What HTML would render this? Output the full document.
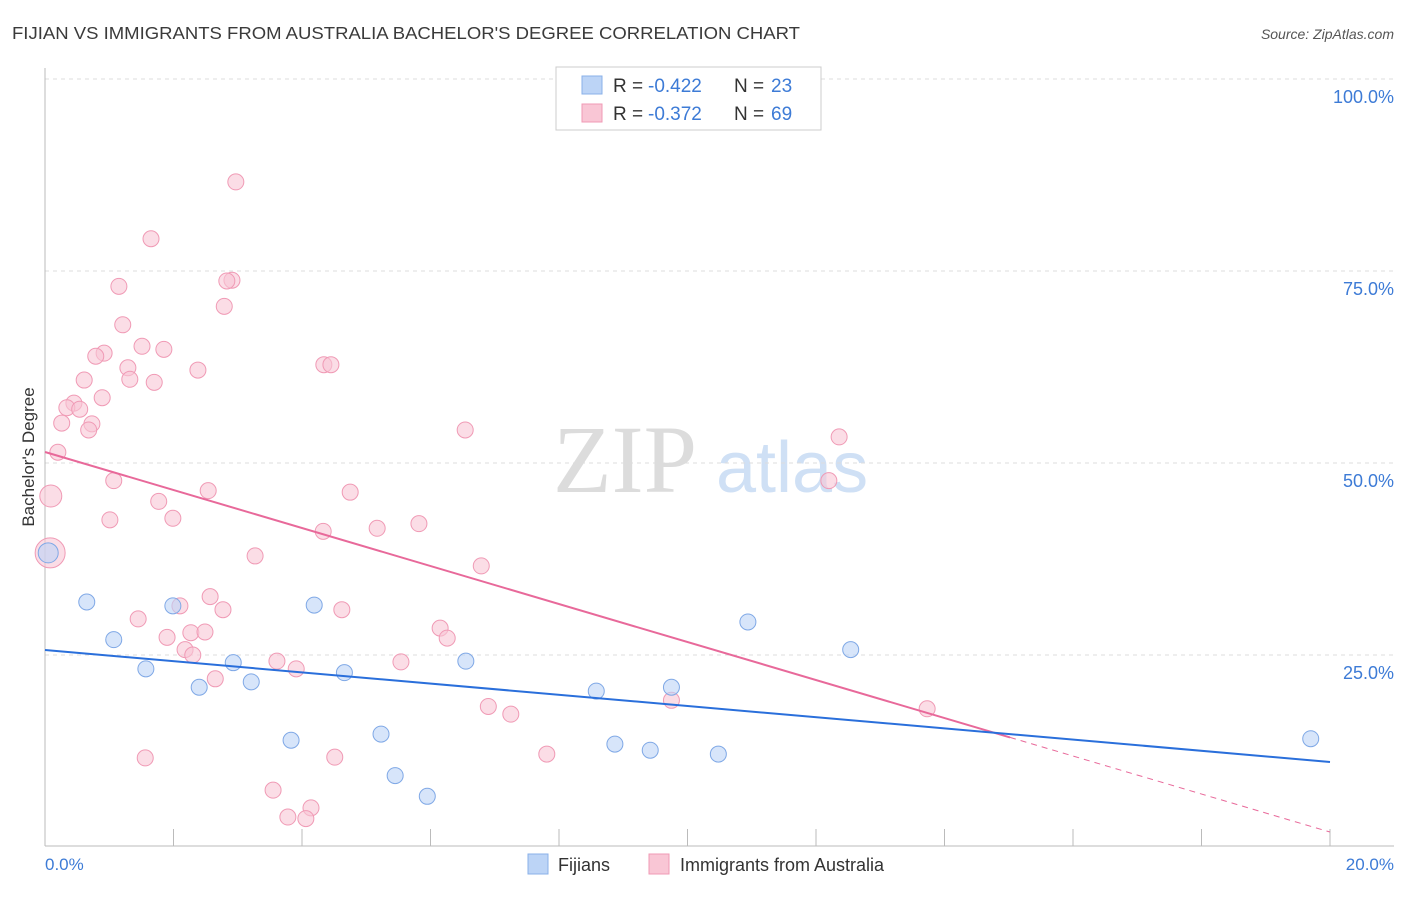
<!DOCTYPE html>
<html><head><meta charset="utf-8"><style>
body{margin:0;background:#fff;font-family:"Liberation Sans",sans-serif}
</style></head><body>
<svg width="1406" height="892" xmlns="http://www.w3.org/2000/svg" font-family="Liberation Sans, sans-serif">
<text x="12" y="39" font-size="17.5" fill="#3a3a3a" textLength="788" lengthAdjust="spacingAndGlyphs">FIJIAN VS IMMIGRANTS FROM AUSTRALIA BACHELOR'S DEGREE CORRELATION CHART</text>
<text x="1394" y="39" font-size="14" fill="#555" text-anchor="end" font-style="italic">Source: ZipAtlas.com</text>
<g><text x="553" y="492" font-size="96" fill="#dcdcdc" font-family="Liberation Serif, serif">ZIP</text><text x="716" y="492" font-size="72" fill="#cfe0f5">atlas</text></g>
<g id="grid"></g>
<line x1="45" y1="68" x2="45" y2="846" stroke="#bbb"/>
<line x1="45" y1="846" x2="1394" y2="846" stroke="#bbb"/>
<text transform="translate(34,457) rotate(-90)" font-size="17" fill="#333" text-anchor="middle">Bachelor's Degree</text>
<text x="45" y="870" font-size="17" fill="#3d7bd6">0.0%</text>
<text x="1394" y="870" font-size="17" fill="#3d7bd6" text-anchor="end">20.0%</text>
<g id="marks"></g>
<g>
<rect x="556" y="67" width="265" height="63" fill="#fff" stroke="#ccc"/>
<rect x="582" y="76" width="20" height="18" fill="#bcd4f6" stroke="#8ab0e8"/>
<rect x="582" y="104" width="20" height="18" fill="#f9c6d5" stroke="#f09ab5"/>
<text x="613" y="92" font-size="19" fill="#333">R = </text>
<text x="648" y="92" font-size="19" fill="#3d7bd6">-0.422</text>
<text x="734" y="92" font-size="19" fill="#333">N = </text>
<text x="771" y="92" font-size="19" fill="#3d7bd6">23</text>
<text x="613" y="120" font-size="19" fill="#333">R = </text>
<text x="648" y="120" font-size="19" fill="#3d7bd6">-0.372</text>
<text x="734" y="120" font-size="19" fill="#333">N = </text>
<text x="771" y="120" font-size="19" fill="#3d7bd6">69</text>
</g>
<g>
<rect x="528" y="854" width="20" height="20" fill="#bcd4f6" stroke="#8ab0e8"/>
<text x="558" y="871" font-size="18" fill="#333">Fijians</text>
<rect x="649" y="854" width="20" height="20" fill="#f9c6d5" stroke="#f09ab5"/>
<text x="680" y="871" font-size="18" fill="#333">Immigrants from Australia</text>
</g>
</svg>
<script>
const yTicks=[25,50,75,100];
const yTickLabels=["25.0%","50.0%","75.0%","100.0%"];
const fijiX=[0.05,0.65,1.07,1.57,1.99,2.40,2.93,3.21,3.83,4.19,4.66,5.23,5.45,5.95,6.55,8.58,8.87,9.42,9.75,10.48,10.94,12.54,19.70];
const fijiY=[38.3,31.9,27.0,23.2,31.4,20.8,24.0,21.5,13.9,31.5,22.7,14.7,9.3,6.6,24.2,20.3,13.4,12.6,20.8,12.1,29.3,25.7,14.1];
const ausX=[2.97,1.65,1.15,2.91,2.83,2.79,1.21,0.92,0.79,1.51,1.85,2.38,1.29,1.32,1.70,0.61,4.34,4.45,0.89,0.45,0.34,0.54,0.26,0.73,0.68,0.20,6.54,12.36,0.09,1.07,2.54,1.77,4.75,1.99,1.01,5.82,5.17,4.33,3.27,6.79,0.08,2.10,2.57,2.77,4.62,1.45,1.90,2.27,2.49,6.15,6.26,2.18,2.30,3.61,3.91,5.54,2.65,6.90,7.25,9.75,13.73,12.20,1.56,4.51,7.81,3.55,4.14,3.78,4.06];
const ausY=[86.6,79.2,73.0,73.8,73.7,70.4,68.0,64.3,63.9,65.2,64.8,62.1,62.4,60.9,60.5,60.8,62.8,62.8,58.5,57.8,57.2,57.0,55.2,55.1,54.3,51.4,54.3,53.4,45.7,47.7,46.4,45.0,46.2,42.8,42.6,42.1,41.5,41.1,37.9,36.6,38.3,31.4,32.6,30.9,30.9,29.7,27.3,27.9,28.0,28.5,27.2,25.7,25.0,24.2,23.2,24.1,21.9,18.3,17.3,19.1,18.0,47.7,11.6,11.7,12.1,7.4,5.1,3.9,3.7];
const fijiLine=[25.65,11.07];
const ausLine=[51.43,1.95];
const ausSolidEnd=15.02;
const X=v=>45+v/20*1285, Y=v=>847-v/100*768;
const NS="http://www.w3.org/2000/svg";
const grid=document.getElementById('grid'), marks=document.getElementById('marks');
function mk(tag,attrs,parent){const e=document.createElementNS(NS,tag);for(const k in attrs)e.setAttribute(k,attrs[k]);parent.appendChild(e);return e;}
yTicks.forEach((t,i)=>{
 const l=mk('line',{x1:45,x2:1394,y1:Y(t),y2:Y(t),stroke:'#ddd','stroke-dasharray':'4 4'},grid);
 
 
 const tx=mk('text',{x:1394,y:Y(t)+24,'font-size':18,fill:'#3d7bd6','text-anchor':'end'},grid);
 tx.textContent=yTickLabels[i];
 
 
});
for(let i=0;i<=10;i++){
 const l=mk('line',{x1:X(i*2),x2:X(i*2),y1:846,y2:829,stroke:'#bbb'},grid);
 
 
}
ausX.forEach((x,i)=>{
 const big=i==28||i==40;
 const c=mk('circle',{cx:X(x),cy:Y(ausY[i]),r:big?(i==40?15:11):8,fill:'#f9c6d5','fill-opacity':0.6,stroke:'#f09ab5','stroke-width':1},marks);
 
 
});
fijiX.forEach((x,i)=>{
 const c=mk('circle',{cx:X(x),cy:Y(fijiY[i]),r:i==0?10:8,fill:'#bcd4f6','fill-opacity':0.6,stroke:'#7fa8e6','stroke-width':1},marks);
 
 
});
const aAt=x=>ausLine[0]+(ausLine[1]-ausLine[0])*x/20;
const ps=mk('line',{x1:X(0),y1:Y(aAt(0)),x2:X(ausSolidEnd),y2:Y(aAt(ausSolidEnd)),stroke:'#e8699a','stroke-width':2},marks);


const pd=mk('line',{x1:X(ausSolidEnd),y1:Y(aAt(ausSolidEnd)),x2:X(20),y2:Y(aAt(20)),stroke:'#e8699a','stroke-width':1,'stroke-dasharray':'6 5'},marks);


const fl=mk('line',{x1:X(0),y1:Y(fijiLine[0]),x2:X(20),y2:Y(fijiLine[1]),stroke:'#2a6fdb','stroke-width':2},marks);


</script>
</body></html>
